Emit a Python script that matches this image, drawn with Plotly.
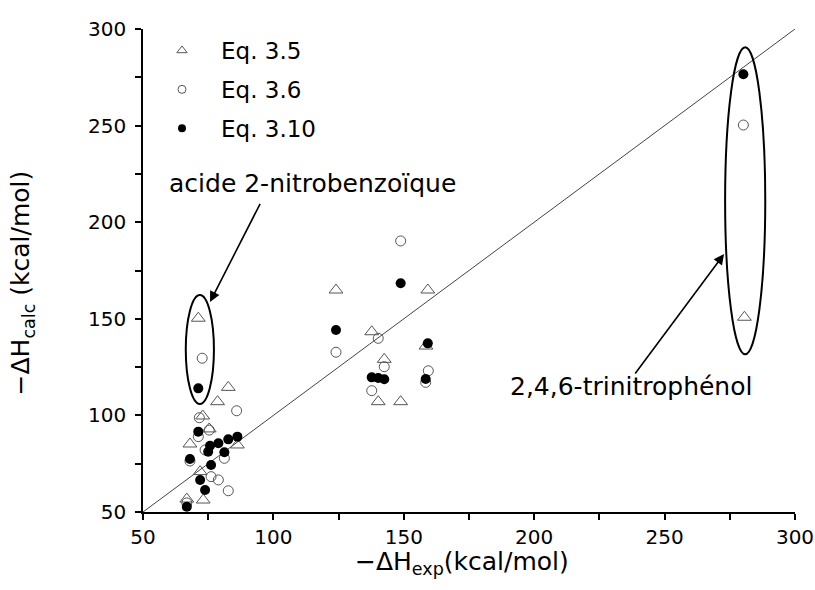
import plotly.graph_objects as go

# ---- data ----
eq35_x = [71.2, 82.7, 78.6, 72.9, 75.4, 68.0, 86.2, 71.9, 73.1, 66.8,
          124.0, 137.7, 142.5, 158.5, 159.2, 140.2, 148.8, 280.6]
eq35_y = [150.3, 114.5, 107.1, 99.7, 93.0, 85.2, 84.7, 70.9, 56.2, 56.7,
          164.9, 143.3, 129.0, 135.9, 164.9, 107.1, 107.1, 150.8]

eq36_x = [72.7, 85.9, 71.6, 75.4, 71.2, 68.0, 73.8, 81.2, 76.1, 78.9, 82.7, 66.8,
          148.8, 124.0, 140.2, 142.5, 159.4, 158.4, 137.7, 280.2]
eq36_y = [129.6, 102.4, 98.8, 92.4, 89.0, 76.4, 82.1, 77.8, 68.3, 66.6, 61.0, 54.7,
          190.3, 132.7, 139.9, 125.2, 123.1, 117.1, 112.8, 250.3]

eq310_x = [71.2, 71.2, 68.0, 75.7, 78.9, 82.7, 86.2, 75.0, 81.2, 76.1, 71.9, 73.8, 66.8,
           148.8, 124.0, 159.2, 137.7, 140.2, 142.5, 158.4, 280.2]
eq310_y = [114.0, 91.6, 77.4, 84.3, 85.6, 87.6, 89.0, 81.2, 80.9, 74.3, 66.6, 61.4, 52.7,
           168.4, 144.2, 137.3, 119.7, 119.4, 118.7, 118.8, 276.6]

ref_line = [50, 300]

series_names = ["Eq. 3.5", "Eq. 3.6", "Eq. 3.10"]
label_acid = "acide 2-nitrobenzoïque"
label_tnp = "2,4,6-trinitrophénol"
x_title = "−ΔH<sub>exp</sub>(kcal/mol)"
y_title = "−ΔH<sub>calc</sub> (kcal/mol)"

FONT = "DejaVu Sans"

fig = go.Figure()

# y = x reference line
fig.add_trace(go.Scatter(x=ref_line, y=ref_line, mode="lines",
                         line=dict(color="#444444", width=1),
                         showlegend=False, hoverinfo="skip"))

styles = [
    dict(symbol="triangle-up-open", size=12, color="#555555", line=dict(width=1, color="#555555")),
    dict(symbol="circle-open", size=10, color="#555555", line=dict(width=1, color="#555555")),
    dict(symbol="circle", size=10, color="black", line=dict(width=0)),
]
data = [(eq35_x, eq35_y), (eq36_x, eq36_y), (eq310_x, eq310_y)]

for (xs, ys), st, nm in zip(data, styles, series_names):
    fig.add_trace(go.Scatter(x=xs, y=ys, mode="markers", marker=st,
                             name=nm, showlegend=False))

# legend entries (smaller symbols as in reference)
leg_sizes = [9, 8, 8]
for st, nm, s, g in zip(styles, series_names, leg_sizes, range(3)):
    m = dict(st)
    m["size"] = s
    fig.add_trace(go.Scatter(x=[None], y=[None], mode="markers", marker=m,
                             name=nm, legendgroup=str(g), showlegend=True))

# ellipses
fig.add_shape(type="circle", xref="x", yref="y", x0=66.4, x1=77.2, y0=105.9, y1=162.3,
              line=dict(color="black", width=2))
fig.add_shape(type="circle", xref="x", yref="y", x0=273.2, x1=288.6, y0=131.6, y1=290.5,
              line=dict(color="black", width=2))

# arrows
fig.add_annotation(x=75.7, y=158.7, ax=95.2, ay=210.3, axref="x", ayref="y",
                   xref="x", yref="y", text="", showarrow=True,
                   arrowhead=2, arrowsize=1.3, arrowwidth=1.6, arrowcolor="black")
fig.add_annotation(x=272.8, y=183.5, ax=238.3, ay=120.9, axref="x", ayref="y",
                   xref="x", yref="y", text="", showarrow=True,
                   arrowhead=2, arrowsize=1.3, arrowwidth=1.6, arrowcolor="black")

# labels
fig.add_annotation(x=59.2, y=219.8, xref="x", yref="y", text=label_acid, showarrow=False,
                   xanchor="left", yanchor="middle", font=dict(family=FONT, size=25, color="black"))
fig.add_annotation(x=190.0, y=115.2, xref="x", yref="y", text=label_tnp, showarrow=False,
                   xanchor="left", yanchor="middle", font=dict(family=FONT, size=25, color="black"))

# axis titles
fig.add_annotation(x=0.489, y=-0.105, xref="paper", yref="paper", text=x_title, showarrow=False,
                   xanchor="center", yanchor="middle", font=dict(family=FONT, size=25, color="black"))
fig.add_annotation(x=-0.185, y=0.474, xref="paper", yref="paper", text=y_title, showarrow=False,
                   textangle=-90, xanchor="center", yanchor="middle",
                   font=dict(family=FONT, size=25, color="black"))

axis_common = dict(
    range=[50, 300], dtick=50, tick0=50, showgrid=False, zeroline=False,
    showline=True, linecolor="black", linewidth=1.5, automargin=False,
    ticklabeloverflow="allow",
    ticks="outside", ticklen=6, tickwidth=1.5, tickcolor="black",
    minor=dict(dtick=25, ticks="outside", ticklen=6, tickwidth=1.5, tickcolor="black", showgrid=False),
    tickfont=dict(family=FONT, size=20, color="black"),
)

fig.update_layout(
    width=815, height=590,
    margin=dict(l=143, r=20, t=29, b=78),
    plot_bgcolor="white", paper_bgcolor="white",
    xaxis=axis_common, yaxis=dict(axis_common, ticklabelstandoff=5),
    showlegend=True,
    legend=dict(x=0.0, y=1.0, xanchor="left", yanchor="top",
                font=dict(family=FONT, size=23, color="black"),
                itemwidth=68, tracegroupgap=6, bgcolor="rgba(0,0,0,0)"),
)

fig.write_html(
    "out.html",
    config={"responsive": False, "displayModeBar": False},
    post_script=(
        "document.body.style.margin='0px';"
        "document.body.style.overflow='hidden';"
        "var gd=document.getElementById('{plot_id}');"
        "Plotly.relayout(gd,{width:815,height:590});"
    ),
)
